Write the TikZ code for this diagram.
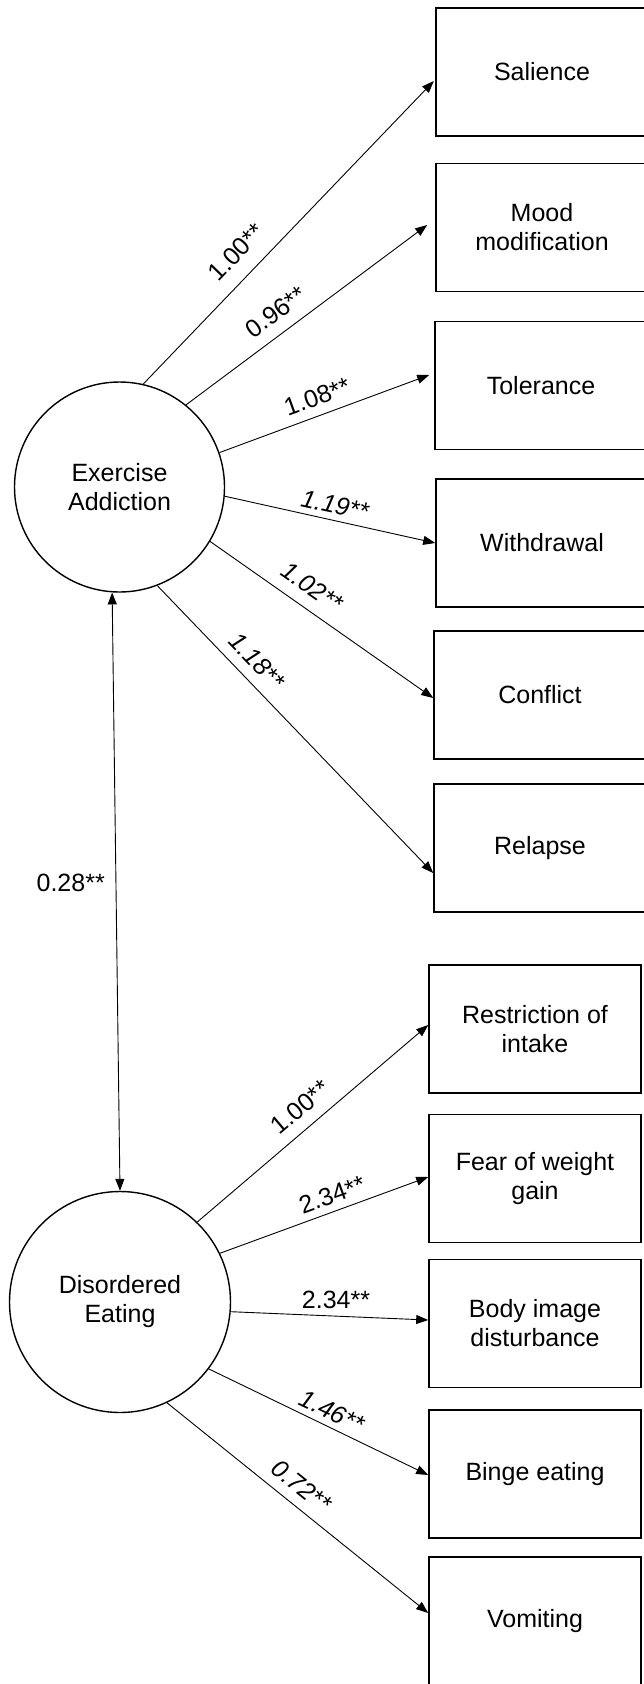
\documentclass[tikz,border=0pt]{standalone}
\usepackage{fontspec}
\setmainfont{Liberation Sans}
\usetikzlibrary{arrows.meta}
\begin{document}
\begin{tikzpicture}[x=1pt,y=-1pt,
  every node/.style={font=\fontsize{25}{29}\selectfont},
  obs/.style={draw,line width=1.6pt,rectangle,minimum width=212pt,minimum height=128pt,align=center,inner sep=0pt},
  lat/.style={draw,line width=1.4pt,circle,align=center,inner sep=0pt},
  arr/.style={line width=0.9pt,-{Triangle[length=12pt,width=9pt]}},
  darr/.style={line width=0.9pt,{Triangle[length=12pt,width=9pt]}-{Triangle[length=12pt,width=9pt]}},
  lbl/.style={inner sep=0pt},
  ilbl/.style={inner sep=0pt,font=\fontsize{25}{29}\selectfont\itshape}]
\useasboundingbox (0,0) rectangle (643,1684);
% latent variables
\node[lat,minimum size=210pt] (ea) at (119.5,487) {Exercise\\Addiction};
\node[lat,minimum size=221pt] (de) at (120,1302) {Disordered\\Eating};
% indicators (exercise addiction)
\node[obs] (sal) at (542,72) {Salience};
\node[obs] (mood) at (542,227.5) {Mood\\modification};
\node[obs] (tol) at (541,385.5) {Tolerance};
\node[obs] (wd) at (542,543) {Withdrawal};
\node[obs] (conf) at (540,695) {Conflict};
\node[obs] (rel) at (540,848) {Relapse};
% indicators (disordered eating)
\node[obs] (res) at (535,1029) {Restriction of\\intake};
\node[obs] (fear) at (535,1178.5) {Fear of weight\\gain};
\node[obs] (body) at (535,1323.5) {Body image\\disturbance};
\node[obs] (binge) at (535,1474) {Binge eating};
\node[obs] (vom) at (535,1621) {Vomiting};
% connectors
\draw[arr] (ea.77) -- ([xshift=-1.4pt,yshift=-9pt]sal.west);
\draw[arr] (ea.51.8) -- ([xshift=-8pt,yshift=2.5pt]mood.west);
\draw[arr] (ea.19.4) -- ([xshift=-5pt,yshift=10.5pt]tol.west);
\draw[arr] (ea.-5.4) -- (wd.west);
\draw[arr] (ea.-31.5) -- ([yshift=-3pt]conf.west);
\draw[arr] (ea.-69) -- ([yshift=-25pt]rel.west);
\draw[arr] (de.46.8) -- ([yshift=4pt]res.west);
\draw[arr] (de.26.7) -- ([yshift=1.5pt]fear.west);
\draw[arr] (de.-5) -- ([yshift=3.5pt]body.west);
\draw[arr] (de.-37) -- ([yshift=-1pt]binge.west);
\draw[arr] (de.-65) -- ([yshift=8pt]vom.west);
\draw[darr] (ea.-94.4) -- (de.90.5);
% labels
\node[lbl,rotate=46] (l1) at (236,252) {1.00**};
\node[lbl,rotate=36.2] (l2) at (276,312) {0.96**};
\node[lbl,rotate=20] (l3) at (317,397) {1.08**};
\node[ilbl,rotate=-12.4] (l4) at (335,505) {1.19**};
\node[ilbl,rotate=-34.8] (l5) at (312,587) {1.02**};
\node[ilbl,rotate=-46] (l6) at (257,661) {1.18**};
\node[lbl] (lc) at (70.7,883) {0.28**};
\node[lbl,rotate=40.1] (m1) at (300,1107) {1.00**};
\node[lbl,rotate=19.7] (m2) at (332,1195) {2.34**};
\node[lbl] (m3) at (336,1300) {2.34**};
\node[ilbl,rotate=-25.5] (m4) at (332,1411) {1.46**};
\node[ilbl,rotate=-38.8] (m5) at (301.5,1486) {0.72**};
\end{tikzpicture}
\end{document}
